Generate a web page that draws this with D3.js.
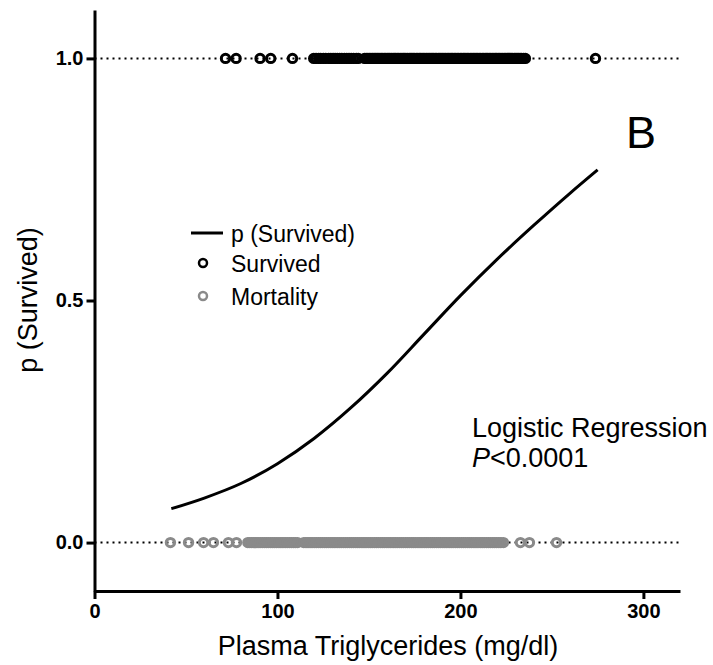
<!DOCTYPE html>
<html>
<head>
<meta charset="utf-8">
<script src="https://cdn.jsdelivr.net/npm/d3@7"></script>
<style>
  html, body { margin: 0; padding: 0; background: #fff; }
  svg { display: block; font-family: "Liberation Sans", Arial, sans-serif; }
</style>
</head>
<body>
<svg id="chart" width="713" height="665"></svg>
<script>
// Plasma triglycerides (mg/dl) of patients who survived (p = 1)
const survived = [71.6, 77.4, 90.5, 96.3, 108.2, 119.8, 121.1, 122.5, 123.6, 125.1,
  126.4, 128.0, 129.2, 130.4, 131.5, 132.7, 134.0, 135.2, 136.6, 137.9, 139.1, 140.3,
  141.6, 143.1, 144.2, 147.6, 148.5, 149.4, 150.2, 151.1, 152.0, 152.8, 153.6, 154.4,
  155.1, 156.0, 156.8, 157.6, 158.4, 159.2, 160.0, 160.8, 161.5, 162.4, 163.2, 164.0,
  164.7, 165.5, 166.3, 167.1, 168.0, 168.7, 169.4, 170.2, 171.1, 172.0, 172.8, 173.5,
  174.2, 175.0, 175.9, 176.7, 177.5, 178.2, 179.0, 179.8, 180.6, 181.5, 182.3, 183.1,
  183.9, 184.6, 185.4, 186.2, 187.0, 187.9, 188.7, 189.4, 190.2, 191.0, 191.8, 192.7,
  193.5, 194.3, 195.1, 195.8, 196.6, 197.4, 198.2, 199.0, 199.9, 200.7, 201.5, 202.2,
  203.0, 203.8, 204.6, 205.5, 206.3, 207.1, 207.9, 208.6, 209.4, 210.2, 211.0, 211.9,
  212.7, 213.5, 214.3, 215.0, 215.8, 216.6, 217.4, 218.3, 219.1, 219.8, 220.6, 221.4,
  222.2, 223.1, 223.9, 224.7, 225.5, 226.2, 227.0, 227.8, 228.6, 229.5, 230.3, 231.0,
  231.8, 232.6, 233.4, 234.5, 235.5, 273.8];

// Plasma triglycerides (mg/dl) of patients who died (p = 0)
const mortality = [41.5, 51.4, 59.6, 65.0, 73.2, 77.6, 83.8, 84.9, 86.0, 87.1, 88.3,
  89.4, 90.5, 91.7, 92.9, 94.0, 95.1, 96.3, 97.4, 98.5, 99.6, 100.8, 101.9, 103.0,
  104.2, 105.3, 106.5, 107.6, 108.7, 109.8, 111.0, 114.4, 115.6, 116.7, 117.8, 118.9,
  120.1, 121.2, 122.4, 123.5, 124.6, 125.8, 126.9, 128.0, 129.2, 130.3, 131.4, 132.6,
  133.7, 134.8, 136.0, 137.1, 138.2, 139.4, 140.5, 141.6, 142.8, 143.9, 145.0, 146.2,
  147.3, 148.4, 149.6, 150.7, 151.8, 153.0, 154.1, 155.2, 156.4, 157.5, 158.6, 159.8,
  160.9, 162.0, 163.2, 164.3, 165.4, 166.6, 167.7, 168.8, 170.0, 171.1, 172.2, 173.4,
  174.5, 175.6, 176.8, 177.9, 179.0, 180.2, 181.3, 182.4, 183.6, 184.7, 185.8, 187.0,
  188.1, 189.2, 190.4, 191.5, 192.6, 193.8, 194.9, 196.0, 197.2, 198.3, 199.4, 200.6,
  201.7, 202.8, 204.0, 205.1, 206.2, 207.4, 208.5, 209.6, 210.8, 211.9, 213.0, 214.2,
  215.3, 216.4, 217.6, 218.7, 219.8, 221.0, 222.1, 223.5, 232.8, 237.7, 252.5];

// Fitted probability of survival along the triglyceride range
const curveTG = [42, 60, 80, 100, 120, 140, 160, 180, 200, 220, 240, 260, 275];
const curveP  = [0.070, 0.092, 0.122, 0.163, 0.215, 0.278, 0.350, 0.430, 0.510, 0.585, 0.655, 0.722, 0.770];

const xTicks = [0, 100, 200, 300];
const yTicks = [0.0, 0.5, 1.0];

const svg = d3.select("#chart");
const x = d3.scaleLinear().domain([0, 320]).range([94.5, 680]);
const y = d3.scaleLinear().domain([-0.1, 1.1]).range([591, 10]);

// dotted reference lines at p = 0 and p = 1
svg.selectAll("line.ref").data([0, 1]).join("line")
  .attr("class", "ref")
  .attr("x1", x(0)).attr("x2", x(320))
  .attr("y1", d => y(d)).attr("y2", d => y(d))
  .attr("stroke", "#000").attr("stroke-width", 2)
  .attr("stroke-dasharray", "2 4");

// axes
const xAxis = svg.append("g").attr("transform", `translate(0,${y(-0.1)})`)
  .call(d3.axisBottom(x).tickValues(xTicks).tickFormat(d3.format("d")).tickSize(8).tickSizeOuter(0));
const yAxis = svg.append("g").attr("transform", `translate(${x(0)},0)`)
  .call(d3.axisLeft(y).tickValues(yTicks).tickFormat(d3.format(".1f")).tickSize(8).tickSizeOuter(0));
[xAxis, yAxis].forEach(g => {
  g.select(".domain").attr("stroke", "#000").attr("stroke-width", 3);
  g.selectAll(".tick line").attr("stroke", "#000").attr("stroke-width", 3);
  g.selectAll(".tick text").attr("fill", "#000")
    .style("font-size", "20px").style("font-weight", "bold")
    .style("font-family", "'Liberation Sans', Arial, sans-serif");
});
xAxis.selectAll(".tick text").attr("dy", "0.75em").attr("y", 12);
yAxis.selectAll(".tick text").attr("x", -11);

// data points
svg.append("g").selectAll("circle").data(mortality).join("circle")
  .attr("cx", d => x(d)).attr("cy", y(0)).attr("r", 4.2)
  .attr("fill", "none").attr("stroke", "#8a8a8a").attr("stroke-width", 3);
svg.append("g").selectAll("circle").data(survived).join("circle")
  .attr("cx", d => x(d)).attr("cy", y(1)).attr("r", 4.2)
  .attr("fill", "none").attr("stroke", "#000").attr("stroke-width", 3);

// fitted logistic curve
const pts = curveTG.map((t, i) => [t, curveP[i]]);
svg.append("path").datum(pts)
  .attr("d", d3.line().x(d => x(d[0])).y(d => y(d[1])).curve(d3.curveMonotoneX))
  .attr("fill", "none").attr("stroke", "#000").attr("stroke-width", 3);

// axis titles
svg.append("text").attr("x", 388).attr("y", 655).attr("text-anchor", "middle")
  .style("font-size", "27px").text("Plasma Triglycerides (mg/dl)");
svg.append("text").attr("transform", "translate(37,300) rotate(-90)")
  .attr("text-anchor", "middle").style("font-size", "27px").text("p (Survived)");

// legend
const leg = svg.append("g");
leg.append("line").attr("x1", 191).attr("x2", 223).attr("y1", 233).attr("y2", 233)
  .attr("stroke", "#000").attr("stroke-width", 3);
leg.append("circle").attr("cx", 203).attr("cy", 263).attr("r", 4)
  .attr("fill", "none").attr("stroke", "#000").attr("stroke-width", 2.5);
leg.append("circle").attr("cx", 203).attr("cy", 296).attr("r", 4)
  .attr("fill", "none").attr("stroke", "#8a8a8a").attr("stroke-width", 2.5);
[["p (Survived)", 242], ["Survived", 272], ["Mortality", 305]].forEach(([t, yy]) => {
  leg.append("text").attr("x", 231).attr("y", yy).style("font-size", "23px").text(t);
});

// panel letter and statistics
svg.append("text").attr("x", 626).attr("y", 148).style("font-size", "45px").text("B");
svg.append("text").attr("x", 472).attr("y", 437).style("font-size", "27px").text("Logistic Regression");
const pt = svg.append("text").attr("x", 472).attr("y", 467).style("font-size", "27px");
pt.append("tspan").style("font-style", "italic").text("P");
pt.append("tspan").text("<0.0001");
</script>
</body>
</html>
